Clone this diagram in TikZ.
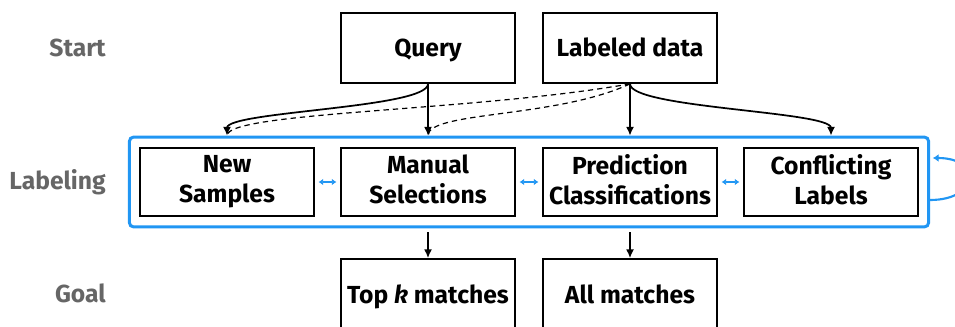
\documentclass[tikz,border=0pt]{standalone}
\usepackage{fontspec}
\setmainfont{Fira Sans}
\usepackage{xcolor}
\usetikzlibrary{positioning,arrows.meta,fit}
\definecolor{boxblue}{RGB}{33,150,243}
\definecolor{rowgray}{RGB}{102,102,102}

\begin{document}
\begin{tikzpicture}[x=0.75pt, y=0.75pt,
  every node/.style={font=\fontsize{18.5}{22.5}\selectfont\bfseries},
  stagebox/.style={draw, line width=1.3pt, minimum width=130pt, minimum height=52.5pt, align=center, inner sep=1pt,
    execute at begin node=\rule{0pt}{17pt}, execute at end node=\rule[-4.2pt]{0pt}{4.2pt}},
  labbox/.style={stagebox, minimum height=51pt},
  rowlbl/.style={anchor=east, text=rowgray, inner sep=0pt},
  flow/.style={-{Latex[length=6.5pt,width=6pt]}, line width=1.3pt},
  alt/.style={dash pattern=on 4pt off 3pt, line width=0.9pt},
  swap/.style={{Latex[length=3.5pt,width=5pt]}-{Latex[length=3.5pt,width=5pt]}, boxblue, line width=1pt, shorten <=3pt, shorten >=3pt},
  group/.style={draw=boxblue, line width=2.25pt, rounded corners=3pt, inner sep=7.5pt}]
\useasboundingbox (0,0) rectangle (955,326);
% row labels
\node[rowlbl] (rStart) at (106,278) {Start};
\node[rowlbl] (rLab) at (106,144) {Labeling};
\node[rowlbl] (rGoal) at (106,33) {Goal};
% inputs
\node[stagebox] (query) at (428,278) {Query};
\node[stagebox] (data) at (630,278) {Labeled data};
% labeling stages
\node[labbox] (newS) at (227,144) {New\\Samples};
\node[labbox] (manS) at (428,144) {Manual\\Selections};
\node[labbox] (predC) at (630,144) {Prediction\\Classifications};
\node[labbox] (confL) at (831,144) {Conflicting\\Labels};
\node[group, fit=(newS)(confL)] (lab) {};
% goals
\node[stagebox, minimum height=54pt] (topk) at (428,31) {Top \textit{k} matches};
\node[stagebox, minimum height=54pt] (allm) at (630,31) {All matches};

\draw[alt] (data.south) to[out=190, in=90, out looseness=1, in looseness=0.15] (newS.north |- lab.north);
\draw[alt] (data.south) to[out=205, in=90, out looseness=1, in looseness=0.3] (manS.north |- lab.north);
\draw[flow] (query.south) to[out=-90, in=90, looseness=0.3] (newS.north |- lab.north);
\draw[flow] (query.south) -- (manS.north |- lab.north);
\draw[flow] (data.south) -- (predC.north |- lab.north);
\draw[flow] (data.south) to[out=-90, in=90, looseness=0.3] (confL.north |- lab.north);

\draw[swap] (newS) -- (manS);
\draw[swap] (manS) -- (predC);
\draw[swap] (predC) -- (confL);
\draw[-{Latex[length=4.5pt,width=6pt]}, boxblue, line width=1.6pt] ([yshift=-13.5pt]lab.east) to[out=0, in=0, looseness=3] ([xshift=2pt, yshift=18pt]lab.east);

\draw[flow, shorten <=3pt] (topk.north |- lab.south) -- (topk.north);
\draw[flow, shorten <=3pt] (allm.north |- lab.south) -- (allm.north);
\end{tikzpicture}
\end{document}
